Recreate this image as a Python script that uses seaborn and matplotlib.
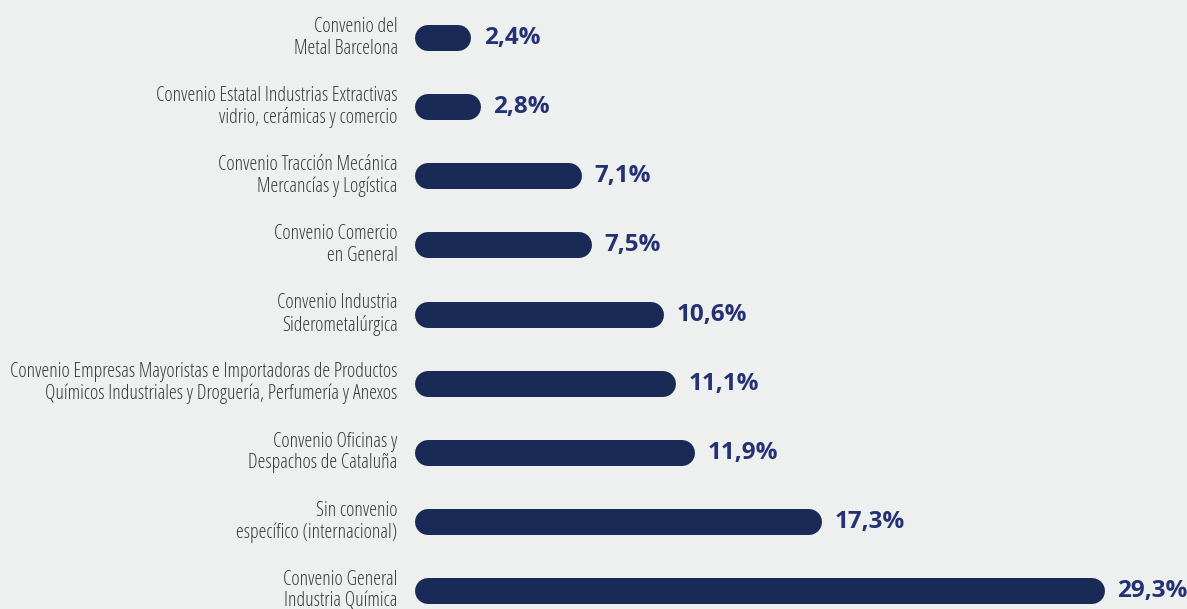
import matplotlib
matplotlib.use("Agg")
import matplotlib.pyplot as plt
import matplotlib.transforms as mtransforms
import seaborn as sns
import pandas as pd
from matplotlib import font_manager
from matplotlib.font_manager import FontProperties

# --- Datos ---
convenios = [
    "Convenio del\nMetal Barcelona",
    "Convenio Estatal Industrias Extractivas\nvidrio, cerámicas y comercio",
    "Convenio Tracción Mecánica\nMercancías y Logística",
    "Convenio Comercio\nen General",
    "Convenio Industria\nSiderometalúrgica",
    "Convenio Empresas Mayoristas e Importadoras de Productos\nQuímicos Industriales y Droguería, Perfumería y Anexos",
    "Convenio Oficinas y\nDespachos de Cataluña",
    "Sin convenio\nespecífico (internacional)",
    "Convenio General\nIndustria Química",
]
porcentajes = [2.4, 2.8, 7.1, 7.5, 10.6, 11.1, 11.9, 17.3, 29.3]
etiquetas = ["2,4%", "2,8%", "7,1%", "7,5%", "10,6%", "11,1%", "11,9%", "17,3%", "29,3%"]

BG = "#eef0f0"
BAR = "#1a2a56"
VAL = "#243172"
XMAX = 32.8

df = pd.DataFrame({"convenio": convenios, "pct": porcentajes})

fig = plt.figure(figsize=(11.87, 6.09), dpi=100, facecolor=BG)
ax = fig.add_axes([415 / 1187, 0, 1 - 415 / 1187, 1])
ax.set_facecolor(BG)
renderer = fig.canvas.get_renderer()

# --- Fuentes ---
ttf = font_manager.fontManager.ttflist
linea_larga = convenios[5].split("\n")[0]
SANS = ("Open Sans", "Noto Sans", "Roboto", "DejaVu Sans", "Liberation Sans", "Lato", "Inter")


def ancho(fp):
    t = fig.text(0, 0, linea_larga, fontproperties=fp, fontsize=10)
    w = t.get_window_extent(renderer).width
    t.remove()
    return w


candidatas = [f for f in ttf
              if f.name.startswith(SANS)
              and "Mono" not in f.name and "Mono" not in f.fname
              and "Display" not in f.name
              and f.style == "normal" and f.weight in (300, 400, "light", "normal", "regular")]
if candidatas:
    fps = [FontProperties(fname=f.fname) for f in candidatas]
    label_fp = min(fps, key=ancho)
else:
    label_fp = FontProperties(family="Roboto")
label_size = min(15, 10 * 390 / ancho(label_fp))

bold = [f for f in ttf if f.name == "Open Sans" and f.weight in (700, "bold")
        and str(f.stretch) == "normal" and f.style == "normal"]
value_fp = FontProperties(fname=bold[0].fname) if bold else FontProperties(family="DejaVu Sans", weight="bold")

sns.barplot(data=df, x="pct", y="convenio", color=BAR, width=0.376, ax=ax,
            saturation=1)
ax.set_xlim(0, XMAX)
ax.set_ylim(8.26, -0.55)

# Barras con extremos redondeados (líneas con remate redondo)
fig.canvas.draw()
bbox = ax.get_window_extent()
px_x = XMAX / bbox.width
px_y = (8.26 + 0.55) / bbox.height
for p in list(ax.patches):
    x0, y0 = p.get_x(), p.get_y()
    w, h = p.get_width(), abs(p.get_height())
    h_px = h / px_y
    r = h_px / 2 * px_x
    yc = y0 + p.get_height() / 2
    ax.plot([x0 + r, x0 + w - r], [yc, yc], color=BAR,
            linewidth=h_px * 72 / fig.dpi, solid_capstyle="round")
    p.remove()

for i, (v, t) in enumerate(zip(porcentajes, etiquetas)):
    ax.annotate(t, (v, i), xytext=(9, 0), textcoords="offset points",
                va="center", ha="left", fontproperties=value_fp, fontsize=17.5,
                color=VAL)

ax.set_xlabel("")
ax.set_ylabel("")
ax.set_xticks([])
ax.tick_params(axis="y", length=0, pad=12.5)

subir = mtransforms.ScaledTranslation(0, 2.5 / 72, fig.dpi_scale_trans)
for lbl in ax.get_yticklabels():
    lbl.set_fontproperties(label_fp)
    lbl.set_fontsize(label_size)
    lbl.set_color("#3a3a3a")
    lbl.set_horizontalalignment("right")
    lbl.set_multialignment("right")
    lbl.set_linespacing(1.1)
    lbl.set_transform(lbl.get_transform() + subir)
for s in ax.spines.values():
    s.set_visible(False)

plt.savefig("out.png", dpi=100, facecolor=BG)
plt.close()
